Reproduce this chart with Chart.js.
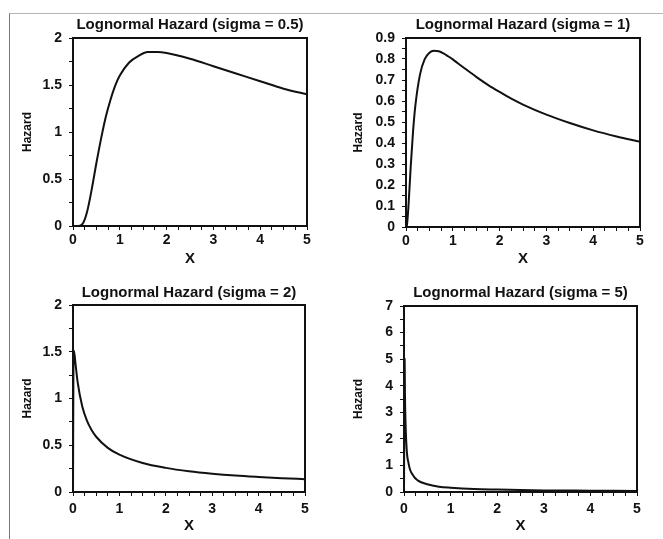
<!DOCTYPE html>
<html>
<head>
<meta charset="utf-8">
<script src="https://cdn.jsdelivr.net/npm/chart.js@4.4.1/dist/chart.umd.min.js"></script>
<style>
  html, body { margin: 0; padding: 0; background: #fff; }
  #page { position: relative; width: 663px; height: 539px; overflow: hidden; background: #fff; }
  #frame { position: absolute; left: 9px; top: 13px; width: 670px; height: 540px;
           border-left: 1px solid #777; border-top: 1px solid #b5b5b5; }
  .cell { position: absolute; }
</style>
</head>
<body>
<div id="page">
  <div id="frame"></div>
  <div class="cell" style="left:0;top:0"><canvas id="c05" width="331" height="268"></canvas></div>
  <div class="cell" style="left:331px;top:0"><canvas id="c1" width="332" height="268"></canvas></div>
  <div class="cell" style="left:0;top:268px"><canvas id="c2" width="331" height="271"></canvas></div>
  <div class="cell" style="left:331px;top:268px"><canvas id="c5" width="332" height="271"></canvas></div>
</div>
<script>
// ---- Data (x, hazard) ----
const xSigma05 = [0, 0.1, 0.2, 0.3, 0.4, 0.5, 0.6, 0.7, 0.8, 0.9, 1.0, 1.2, 1.4, 1.6, 1.8, 2.0, 2.5, 3.0, 3.5, 4.0, 4.5, 5.0];
const hSigma05 = [0, 0.00, 0.02, 0.15, 0.39, 0.67, 0.93, 1.16, 1.34, 1.49, 1.60, 1.74, 1.81, 1.85, 1.85, 1.84, 1.78, 1.70, 1.62, 1.54, 1.46, 1.40];

const xSigma1 = [0, 0.02, 0.05, 0.1, 0.15, 0.2, 0.3, 0.4, 0.5, 0.6, 0.7, 0.8, 0.9, 1.0, 1.1, 1.25, 1.5, 1.75, 2.0, 2.25, 2.5, 3.0, 3.5, 4.0, 4.5, 5.0];
const hSigma1 = [0, 0.01, 0.09, 0.285, 0.453, 0.578, 0.727, 0.799, 0.830, 0.839, 0.837, 0.827, 0.813, 0.798, 0.781, 0.756, 0.715, 0.677, 0.643, 0.611, 0.583, 0.535, 0.495, 0.46, 0.431, 0.406];

const xSigma2 = [0, 0.01, 0.02, 0.05, 0.1, 0.2, 0.3, 0.4, 0.5, 0.75, 1.0, 1.5, 2.0, 2.5, 3.0, 3.5, 4.0, 4.5, 5.0];
const hSigma2 = [0, 1.42, 1.51, 1.39, 1.175, 0.914, 0.764, 0.664, 0.591, 0.472, 0.399, 0.31, 0.258, 0.222, 0.196, 0.176, 0.161, 0.148, 0.137];

const xSigma5 = [0, 0.014, 0.02, 0.05, 0.1, 0.2, 0.3, 0.5, 0.75, 1.0, 1.5, 2.0, 3.0, 4.0, 5.0];
const hSigma5 = [0, 5.00, 3.75, 1.84, 1.06, 0.61, 0.43, 0.29, 0.20, 0.16, 0.11, 0.09, 0.06, 0.05, 0.04];

const titles = [
  'Lognormal Hazard (sigma = 0.5)',
  'Lognormal Hazard (sigma = 1)',
  'Lognormal Hazard (sigma = 2)',
  'Lognormal Hazard (sigma = 5)'
];
const xTickLabels = [0, 1, 2, 3, 4, 5];

// ---- Common look ----
const FONT = "'Liberation Sans', Arial, Helvetica, sans-serif";
Chart.defaults.font.family = FONT;
Chart.defaults.font.weight = 'bold';
Chart.defaults.color = '#111';

// black box around the plot area
const boxFrame = {
  id: 'boxFrame',
  afterDraw(chart) {
    const { ctx, chartArea: a } = chart;
    ctx.save();
    ctx.strokeStyle = '#111';
    ctx.lineWidth = 2;
    ctx.strokeRect(a.left, a.top, a.right - a.left, a.bottom - a.top);
    ctx.restore();
  }
};

const isMajor = (v, step) => Math.abs(v / step - Math.round(v / step)) < 1e-6;

function hazardChart(id, opt) {
  const pts = opt.xs.map((x, i) => ({ x, y: opt.ys[i] }));
  return new Chart(document.getElementById(id), {
    type: 'line',
    data: {
      datasets: [{
        data: pts,
        borderColor: '#111',
        borderWidth: 2,
        pointRadius: 0,
        fill: false,
        cubicInterpolationMode: 'monotone'
      }]
    },
    options: {
      responsive: false,
      animation: false,
      layout: { padding: { left: 0, right: opt.padRight, top: 0, bottom: 0 } },
      plugins: {
        legend: { display: false },
        tooltip: { enabled: false },
        title: {
          display: true,
          text: opt.title,
          fullSize: false,
          color: '#111',
          font: { size: 15, weight: 'bold' },
          padding: { top: 16, bottom: opt.titleBottom }
        }
      },
      scales: {
        x: {
          type: 'linear',
          min: 0, max: 5,
          grid: { display: true, drawOnChartArea: false, tickLength: 4, color: '#111', tickWidth: 1 },
          border: { display: false },
          ticks: {
            stepSize: 0.25,
            autoSkip: false,
            maxRotation: 0,
            padding: opt.xTickPad,
            font: { size: 14, weight: 'bold' },
            color: '#111',
            callback: v => xTickLabels.includes(v) ? String(v) : ''
          },
          title: {
            display: true, text: 'X', color: '#111',
            font: { size: 15, weight: 'bold' },
            padding: { top: 0, bottom: opt.xTitleBottom }
          },
          afterFit: s => { s.height = opt.xHeight; }
        },
        y: {
          type: 'linear',
          min: 0, max: opt.yMax,
          grid: { display: true, drawOnChartArea: false, tickLength: 4, color: '#111', tickWidth: 1 },
          border: { display: false },
          ticks: {
            stepSize: opt.yMinor,
            autoSkip: false,
            padding: 7,
            font: { size: 14, weight: 'bold' },
            color: '#111',
            callback: v => isMajor(v, opt.yMajor) ? String(Math.round(v * 10) / 10) : ''
          },
          title: {
            display: true, text: 'Hazard', color: '#111',
            font: { size: 12, weight: 'bold' },
            padding: { top: 20, bottom: 0 }
          },
          afterFit: s => { s.width = opt.yWidth; }
        }
      }
    },
    plugins: [boxFrame]
  });
}

hazardChart('c05', {
  xs: xSigma05, ys: hSigma05, title: titles[0],
  yMax: 2, yMajor: 0.5, yMinor: 0.25,
  yWidth: 73, xHeight: 42, padRight: 24, titleBottom: 4,
  xTickPad: 2, xTitleBottom: 0
});
hazardChart('c1', {
  xs: xSigma1, ys: hSigma1, title: titles[1],
  yMax: 0.9, yMajor: 0.1, yMinor: 0.05,
  yWidth: 75, xHeight: 41, padRight: 23, titleBottom: 4,
  xTickPad: 2, xTitleBottom: 0
});
hazardChart('c2', {
  xs: xSigma2, ys: hSigma2, title: titles[2],
  yMax: 2, yMajor: 0.5, yMinor: 0.25,
  yWidth: 73, xHeight: 47, padRight: 26, titleBottom: 3,
  xTickPad: 5, xTitleBottom: 4
});
hazardChart('c5', {
  xs: xSigma5, ys: hSigma5, title: titles[3],
  yMax: 7, yMajor: 1, yMinor: 0.5,
  yWidth: 73, xHeight: 47, padRight: 26, titleBottom: 4,
  xTickPad: 5, xTitleBottom: 4
});
</script>
</body>
</html>
